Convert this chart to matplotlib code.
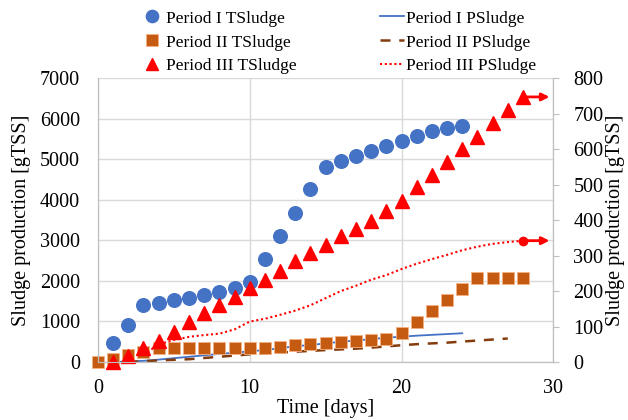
import matplotlib.pyplot as plt

plt.rcParams['font.family'] = ['Liberation Serif', 'DejaVu Serif']

# Period I total sludge (left axis)
DaysT1 = list(range(1, 25))
TSludge1 = [470, 910, 1400, 1450, 1530, 1580, 1650, 1720, 1820, 1970, 2540, 3100,
            3670, 4260, 4800, 4950, 5070, 5200, 5320, 5440, 5570, 5690, 5760, 5810]

# Period II total sludge (left axis)
DaysT2 = list(range(0, 29))
TSludge2 = [0, 70, 170, 250, 340, 340, 340, 340, 340, 340, 340, 350, 370, 420, 440,
            470, 490, 520, 540, 565, 720, 990, 1260, 1530, 1800, 2070, 2070, 2070, 2070]

# Period III total sludge (right axis)
DaysT3 = list(range(1, 29))
TSludge3 = [0, 18, 39, 60, 85, 112, 138, 160, 184, 208, 231, 257, 284, 308, 331, 355,
            375, 398, 426, 454, 493, 527, 563, 600, 634, 673, 710, 747]

# Period I produced sludge (left axis)
DaysP1 = list(range(1, 25))
PSludge1 = [0, 15, 30, 60, 95, 130, 165, 200, 230, 265, 295, 340, 390, 420, 460, 500,
            530, 565, 600, 625, 650, 670, 690, 710]

# Period II produced sludge (left axis)
DaysP2 = list(range(2, 28))
PSludge2 = [0, 20, 40, 55, 70, 100, 130, 160, 190, 210, 235, 255, 275, 295, 312, 330,
            355, 385, 415, 440, 460, 478, 505, 530, 555, 580]

# Period III produced sludge (right axis)
DaysP3 = list(range(3, 29))
PSludge3 = [20, 50, 62, 71, 76, 80, 92, 114, 122, 133, 145, 160, 180, 200, 215, 232,
            245, 262, 277, 290, 302, 315, 325, 333, 338, 342]

fig = plt.figure(figsize=(6.28, 4.2), dpi=100)
ax = fig.add_axes([0.156, 0.138, 0.725, 0.676])
ax2 = ax.twinx()

grey = '#bfbfbf'

# lines first, markers on top
l1, = ax.plot(DaysP1, PSludge1, color='#4472C4', lw=1.3, label='Period I PSludge')
l2, = ax.plot(DaysP2, PSludge2, color='#843C0C', lw=1.8, dashes=(4, 3.5),
              label='Period II PSludge')
m1, = ax.plot(DaysT1, TSludge1, 'o', color='#4472C4', ms=9.8, mec='#4472C4',
              label='Period I TSludge', clip_on=False)
m2, = ax.plot(DaysT2, TSludge2, 's', color='#C55A11', ms=9.3, mec='#F4B183', mew=0.6,
              label='Period II TSludge', clip_on=False)

l3, = ax2.plot(DaysP3, PSludge3, color='red', lw=1.5, dashes=(1, 1.3),
               label='Period III PSludge')
m3, = ax2.plot(DaysT3, TSludge3, '^', color='red', ms=9.8, label='Period III TSludge',
               clip_on=False)
ax2.plot([DaysP3[-1]], [PSludge3[-1]], 'o', color='red', ms=6)

# arrows pointing to the secondary axis
ax2.annotate('', xy=(29.75, TSludge3[-1]), xytext=(DaysT3[-1], TSludge3[-1]),
             arrowprops=dict(arrowstyle='-|>', color='red', lw=2, mutation_scale=11,
                             shrinkA=0, shrinkB=0))
ax2.annotate('', xy=(29.75, PSludge3[-1]), xytext=(DaysP3[-1], PSludge3[-1]),
             arrowprops=dict(arrowstyle='-|>', color='red', lw=2, mutation_scale=11,
                             shrinkA=0, shrinkB=0))

ax.set_xlim(0, 30)
ax.set_ylim(0, 7000)
ax2.set_ylim(0, 800)
ax.set_xticks([0, 10, 20, 30])
ax.set_yticks(range(0, 7001, 1000))
ax2.set_yticks(range(0, 801, 100))

ax.grid(True, color='#d9d9d9', lw=1)
ax.set_axisbelow(True)

for a in (ax, ax2):
    a.spines['top'].set_visible(False)
    for s in ('left', 'right', 'bottom'):
        a.spines[s].set_color(grey)
ax.tick_params(axis='both', length=0, labelsize=14.5)
ax.tick_params(axis='y', pad=13)
ax.tick_params(axis='x', pad=12)
ax2.tick_params(axis='y', length=4.5, color=grey, labelsize=14.5, pad=10)

ax.set_xlabel('Time [days]', fontsize=14.5, labelpad=1)
ax.set_ylabel('Sludge production [gTSS]', fontsize=14.5, labelpad=6)
ax2.set_ylabel('Sludge production [gTSS]', fontsize=14.5, labelpad=2)

fig.legend(handles=[m1, m2, m3, l1, l2, l3], ncol=2, loc='upper center',
           bbox_to_anchor=(0.539, 1.0), frameon=False, fontsize=12.5,
           handlelength=1.35, handletextpad=0.15, columnspacing=4.8,
           labelspacing=0.45, borderaxespad=0.2, markerscale=0.9)

fig.savefig('out.png', dpi=100)
